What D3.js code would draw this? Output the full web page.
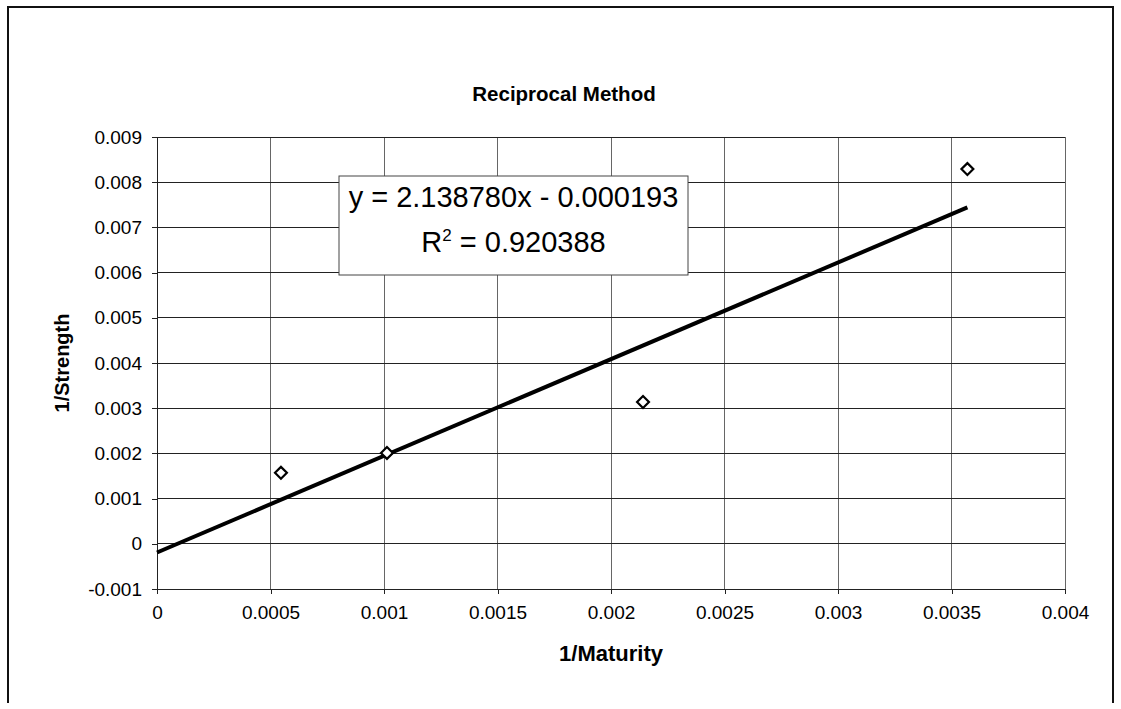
<!DOCTYPE html>
<html>
<head>
<meta charset="utf-8">
<script src="https://cdn.jsdelivr.net/npm/d3@7"></script>
<style>
  html, body { margin: 0; padding: 0; background: #fff; }
  svg { display: block; font-family: Arial, "Liberation Sans", sans-serif; }
</style>
</head>
<body>
<svg id="chart" width="1121" height="709"></svg>
<script>
// ---- data ----
const title = "Reciprocal Method";
const xLabel = "1/Maturity";
const yLabel = "1/Strength";
const maturityInv = [0.000546, 0.001013, 0.002141, 0.00357];
const strengthInv = [0.00157, 0.00201, 0.003138, 0.00829];
const xTicks = [0, 0.0005, 0.001, 0.0015, 0.002, 0.0025, 0.003, 0.0035, 0.004];
const yTicks = [-0.001, 0, 0.001, 0.002, 0.003, 0.004, 0.005, 0.006, 0.007, 0.008, 0.009];
const trendSlope = 2.138780;
const trendIntercept = -0.000193;
const eqLine1 = "y = 2.138780x - 0.000193";
const eqR2 = "0.920388";

(function () {
// ---- layout ----
const svg = d3.select("#chart");
const pL = 157, pR = 1065, pT = 137, pB = 589;

const x = d3.scaleLinear().domain([0, 0.004]).range([pL, pR]);
const y = d3.scaleLinear().domain([-0.001, 0.009]).range([pB, pT]);

// outer border
svg.append("path")
  .attr("d", `M8,703 L8,7 L1113,7 L1113,703`)
  .attr("fill", "none").attr("stroke", "#111").attr("stroke-width", 2);

// gridlines
svg.append("g").selectAll("line").data(xTicks).join("line")
  .attr("x1", d => x(d)).attr("x2", d => x(d))
  .attr("y1", pT).attr("y2", pB)
  .attr("stroke", "#666").attr("stroke-width", 1).attr("shape-rendering", "crispEdges");
svg.append("g").selectAll("line").data(yTicks).join("line")
  .attr("x1", pL).attr("x2", pR)
  .attr("y1", d => y(d)).attr("y2", d => y(d))
  .attr("stroke", "#222").attr("stroke-width", 1).attr("shape-rendering", "crispEdges");

// axes
const fmt = d => String(+d.toPrecision(6));
const yAxis = d3.axisLeft(y).tickValues(yTicks).tickSize(5).tickPadding(10).tickFormat(fmt);
const xAxis = d3.axisBottom(x).tickValues(xTicks).tickSize(5).tickPadding(12).tickFormat(fmt);

const gy = svg.append("g").attr("transform", `translate(${pL},0)`).call(yAxis);
const gx = svg.append("g").attr("transform", `translate(0,${pB})`).call(xAxis);
[gx, gy].forEach(g => {
  g.select(".domain").attr("stroke", "#222").attr("shape-rendering", "crispEdges");
  g.selectAll(".tick line").attr("stroke", "#222").attr("shape-rendering", "crispEdges");
  g.selectAll(".tick text").attr("fill", "#000").style("font-size", "19px")
    .style("font-family", "Arial, 'Liberation Sans', sans-serif");
});

// title
svg.append("text").attr("x", 564).attr("y", 101).attr("text-anchor", "middle")
  .style("font-size", "20.5px").style("font-weight", "bold").text(title);
// axis titles
svg.append("text").attr("x", (pL + pR) / 2).attr("y", 661).attr("text-anchor", "middle")
  .style("font-size", "22px").style("font-weight", "bold").text(xLabel);
svg.append("text").attr("transform", `translate(69,${(pT + pB) / 2}) rotate(-90)`)
  .attr("text-anchor", "middle")
  .style("font-size", "20px").style("font-weight", "bold").text(yLabel);

// trendline
const xMax = d3.max(maturityInv);
const trendPts = [0, xMax].map(v => [x(v), y(trendSlope * v + trendIntercept)]);
svg.append("path").attr("d", d3.line()(trendPts))
  .attr("stroke", "#000").attr("stroke-width", 4).attr("fill", "none");

// points (diamonds)
const sym = d3.symbol().type(d3.symbolDiamond2).size(90);
svg.append("g").selectAll("path").data(maturityInv.map((v, i) => [v, strengthInv[i]])).join("path")
  .attr("transform", d => `translate(${x(d[0])},${y(d[1])})`)
  .attr("d", sym)
  .attr("fill", "#fff").attr("stroke", "#000").attr("stroke-width", 2.2);

// equation box
const box = svg.append("g");
box.append("rect").attr("x", 339).attr("y", 176).attr("width", 349).attr("height", 99)
  .attr("fill", "#fff").attr("stroke", "#444").attr("stroke-width", 1);
box.append("text").attr("x", 513.5).attr("y", 207).attr("text-anchor", "middle")
  .style("font-size", "29px").text(eqLine1);
const t2 = box.append("text").attr("x", 513.5).attr("y", 252).attr("text-anchor", "middle")
  .style("font-size", "29px");
t2.append("tspan").text("R");
t2.append("tspan").attr("dy", -11).style("font-size", "17px").text("2");
t2.append("tspan").attr("dy", 11).text(" = " + eqR2);
})();
</script>
</body>
</html>
